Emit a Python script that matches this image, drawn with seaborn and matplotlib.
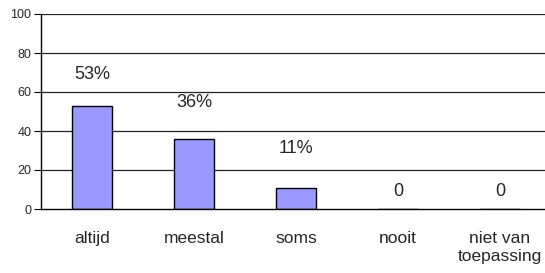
import numpy as np
import pandas as pd
import matplotlib
matplotlib.use("Agg")
import matplotlib.pyplot as plt
import seaborn as sns

categories = ["altijd", "meestal", "soms", "nooit", "niet van\ntoepassing"]
values = [53, 36, 11, 0, 0]
labels = ["53%", "36%", "11%", "0", "0"]
# pixel offset of each value label above its bar top
label_offsets = [31, 36, 39, 17, 17]

df = pd.DataFrame({"cat": categories, "val": values})

sns.set_style("white")
plt.rcParams["font.family"] = ["Liberation Sans", "DejaVu Sans"]

fig = plt.figure(figsize=(5.45, 2.73), dpi=100)
ax = fig.add_axes([41 / 545, 1 - 209 / 273, 510 / 545, 195 / 273])

sns.barplot(data=df, x="cat", y="val", color="#9999ff", width=0.4,
            edgecolor="black", linewidth=1, saturation=1, ax=ax)

ax.set_xlim(-0.5, 4.5)
ax.set_ylim(0, 100)
ax.set_yticks([0, 20, 40, 60, 80, 100])
for y in [20, 40, 60, 80, 100]:
    ax.axhline(y, color="#222222", linewidth=0.9, zorder=0)

ax.set_xticks(range(len(categories)))
ax.set_xticklabels(categories, fontsize=12.5, linespacing=1.25)
ax.tick_params(axis="x", length=0, pad=15.5)
# category boundary ticks
ax.set_xticks(np.arange(-0.5, 5, 1), minor=True)
ax.tick_params(axis="x", which="minor", length=5, width=0.8, color="#333333", direction="out")
ax.tick_params(axis="y", labelsize=9, length=5, width=0.8, color="black", direction="out", pad=2, left=True)

ax.set_xlabel("")
ax.set_ylabel("")
for s in ["top", "right"]:
    ax.spines[s].set_visible(False)
ax.spines["left"].set_color("black")
ax.spines["left"].set_linewidth(1)
ax.spines["bottom"].set_color("black")
ax.spines["bottom"].set_linewidth(1)

for i, (v, t, off) in enumerate(zip(values, labels, label_offsets)):
    ax.annotate(t, (i, v), xytext=(0, off * 0.72), textcoords="offset points",
                ha="center", va="center", fontsize=13)

fig.savefig("out.png", dpi=100)
